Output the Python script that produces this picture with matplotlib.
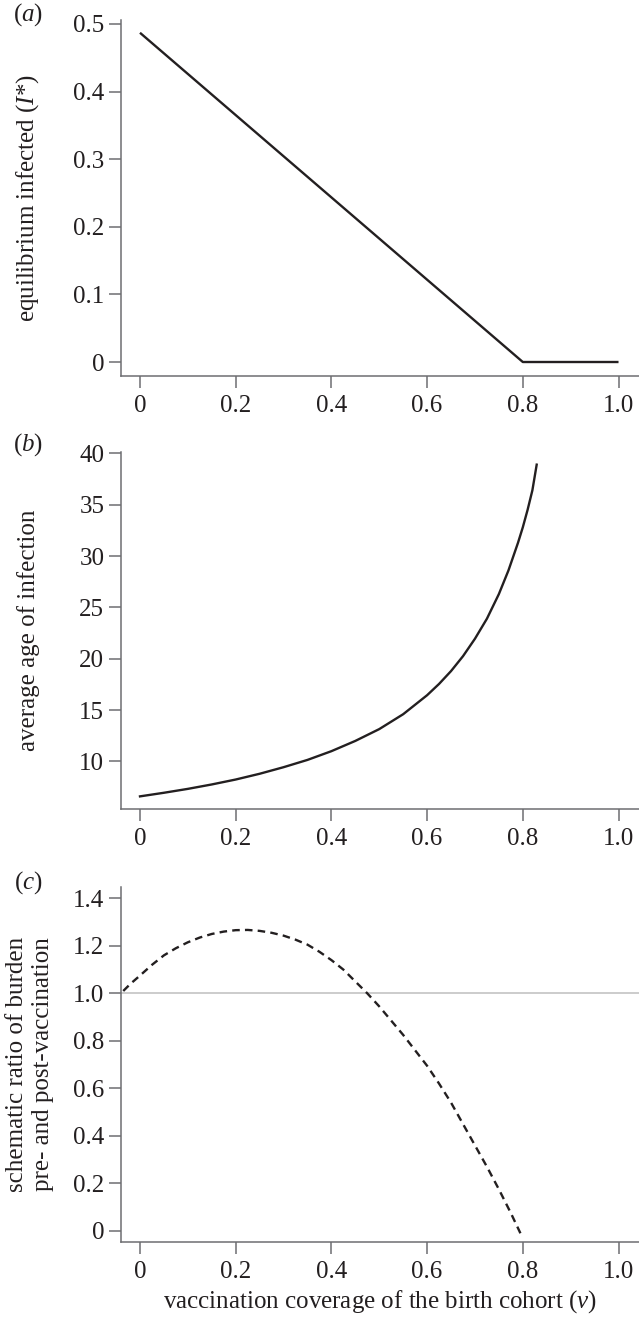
import matplotlib
matplotlib.use("Agg")
import matplotlib.pyplot as plt

# panel (a): equilibrium infected
v_a = [0.0, 0.8, 1.0]
infected_a = [0.487, 0.0, 0.0]

# panel (b): average age of infection
v_b = [0.0, 0.05, 0.1, 0.15, 0.2, 0.25, 0.3, 0.35, 0.4, 0.45, 0.5, 0.55, 0.6, 0.625,
       0.65, 0.675, 0.7, 0.725, 0.75, 0.77, 0.79, 0.8, 0.81, 0.82, 0.829]
age_b = [6.6, 6.95, 7.33, 7.76, 8.24, 8.8, 9.44, 10.15, 11.0, 12.0, 13.15, 14.6, 16.45,
         17.55, 18.8, 20.25, 21.95, 23.9, 26.3, 28.6, 31.3, 32.8, 34.5, 36.4, 38.9]

# panel (c): schematic burden ratio
v_c = [-0.035, -0.02, 0.0, 0.025, 0.05, 0.075, 0.1, 0.125, 0.15, 0.175, 0.2, 0.225,
       0.25, 0.275, 0.3, 0.325, 0.35, 0.375, 0.4, 0.425, 0.45, 0.475, 0.5, 0.525,
       0.55, 0.575, 0.6, 0.625, 0.65, 0.675, 0.7, 0.725, 0.75, 0.775, 0.795]
ratio_c = [1.01, 1.04, 1.075, 1.12, 1.16, 1.19, 1.215, 1.235, 1.25, 1.26, 1.266, 1.267,
           1.263, 1.255, 1.243, 1.226, 1.205, 1.175, 1.14, 1.10, 1.05, 1.0, 0.945, 0.885,
           0.825, 0.76, 0.695, 0.62, 0.54, 0.45, 0.36, 0.27, 0.175, 0.075, -0.01]

x_ticks = [0, 0.2, 0.4, 0.6, 0.8, 1.0]
x_ticklabels = ["0", "0.2", "0.4", "0.6", "0.8", "1.0"]

ink = "#231f20"
axis_grey = "#6d6e71"
FS = 18

plt.rcParams["font.family"] = ["Liberation Serif", "DejaVu Serif"]
plt.rcParams["font.size"] = FS
plt.rcParams["mathtext.fontset"] = "custom"
plt.rcParams["mathtext.rm"] = "Liberation Serif"
plt.rcParams["mathtext.it"] = "Liberation Serif:italic"
plt.rcParams["text.color"] = ink
plt.rcParams["axes.labelcolor"] = ink

W, H = 639, 1317
fig = plt.figure(figsize=(W / 100, H / 100), dpi=100)

left = 121 / W
width = 1 - left
ax_a = fig.add_axes([left, 1 - 376 / H, width, (376 - 20) / H])
ax_b = fig.add_axes([left, 1 - 809 / H, width, (809 - 452) / H])
ax_c = fig.add_axes([left, 1 - 1242.3 / H, width, (1242.3 - 886.7) / H])


def style_axes(ax):
    for side in ["top", "right"]:
        ax.spines[side].set_visible(False)
    for side in ["left", "bottom"]:
        ax.spines[side].set_color(axis_grey)
        ax.spines[side].set_linewidth(1.1)
    ax.tick_params(axis="both", colors=axis_grey, labelcolor=ink, length=8.5,
                   width=1.1, labelsize=FS)
    ax.tick_params(axis="y", pad=3.5)
    ax.tick_params(axis="x", pad=5)
    ax.set_xlim(-0.0397, 1.0428)
    ax.set_xticks(x_ticks)
    ax.set_xticklabels(x_ticklabels)


# (a)
ax_a.plot(v_a, infected_a, color=ink, lw=1.7, solid_capstyle="butt")
style_axes(ax_a)
ax_a.set_ylim(-0.0207, 0.5059)
ax_a.set_yticks([0, 0.1, 0.2, 0.3, 0.4, 0.5])
ax_a.set_yticklabels(["0", "0.1", "0.2", "0.3", "0.4", "0.5"])

# (b)
ax_b.plot(v_b, age_b, color=ink, lw=1.7)
style_axes(ax_b)
ax_b.set_ylim(5.37, 40.13)
ax_b.set_yticks([10, 15, 20, 25, 30, 35, 40])

# (c)
ax_c.axhline(1.0, color="#c8c8c8", lw=1.3, zorder=1)
ax_c.plot(v_c, ratio_c, color=ink, lw=1.7, dashes=(3.2, 2.2), zorder=2)
style_axes(ax_c)
ax_c.set_ylim(-0.048, 1.449)
ax_c.set_yticks([0, 0.2, 0.4, 0.6, 0.8, 1.0, 1.2, 1.4])
ax_c.set_yticklabels(["0", "0.2", "0.4", "0.6", "0.8", "1.0", "1.2", "1.4"])
ax_c.set_xlabel("vaccination coverage of the birth cohort ($v$)", fontsize=FS,
                labelpad=4)

# y labels placed in figure pixels
fig.text(28 / W, 1 - 198 / H, "equilibrium infected ($I$*)", rotation=90,
         ha="center", va="center", fontsize=FS)
fig.text(29 / W, 1 - 630 / H, "average age of infection", rotation=90,
         ha="center", va="center", fontsize=FS)
fig.text(30 / W, 1 - 1064 / H, "schematic ratio of burden\npre- and post-vaccination",
         rotation=90, ha="center", va="center", fontsize=FS, linespacing=1.2,
         multialignment="center")

# panel letters
for ypix, letter in [(15, "a"), (445, "b"), (883, "c")]:
    fig.text(28 / W, 1 - ypix / H, "($" + letter + "$)", ha="center", va="center",
             fontsize=FS)

fig.savefig("out.png", dpi=100)
